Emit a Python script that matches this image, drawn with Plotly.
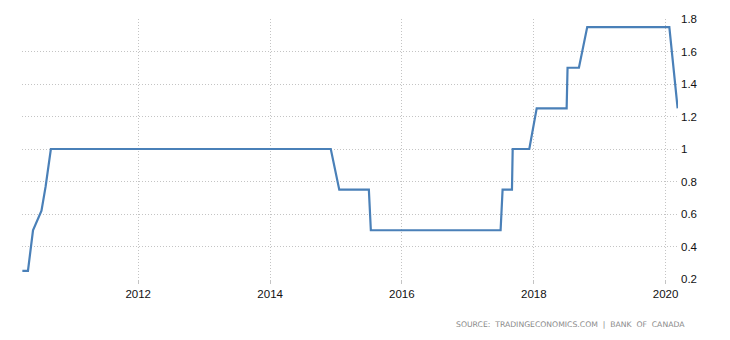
import plotly.graph_objects as go

# Bank of Canada policy rate (%)
dates = ["2010-03-30", "2010-04-30", "2010-05-28", "2010-07-14", "2010-08-06", "2010-09-04",
         "2014-12-03", "2015-01-19", "2015-07-02", "2015-07-13",
         "2017-07-01", "2017-07-12", "2017-09-02", "2017-09-06", "2017-12-07", "2018-01-17",
         "2018-07-02", "2018-07-07", "2018-09-08", "2018-10-24", "2020-01-22", "2020-03-08"]
values = [0.25, 0.25, 0.5, 0.62, 0.77, 1.0,
          1.0, 0.75, 0.75, 0.5,
          0.5, 0.75, 0.75, 1.0, 1.0, 1.25,
          1.25, 1.5, 1.5, 1.75, 1.75, 1.25]
y_ticks = [0.2, 0.4, 0.6, 0.8, 1.0, 1.2, 1.4, 1.6, 1.8]
y_labels = ["0.2", "0.4", "0.6", "0.8", "1", "1.2", "1.4", "1.6", "1.8"]
x_tick_years = ["2012", "2014", "2016", "2018", "2020"]
source_text = "SOURCE:  TRADINGECONOMICS.COM  |  BANK  OF  CANADA"

fig = go.Figure()
fig.add_trace(go.Scatter(
    x=dates, y=values, mode="lines",
    line=dict(color="#4a80b8", width=2.2),
    hoverinfo="skip", showlegend=False,
))

grid_color = "#c4c4c4"
fig.update_layout(
    width=730, height=340,
    margin=dict(l=22, r=52, t=19, b=61),
    paper_bgcolor="white", plot_bgcolor="white",
    font=dict(family="Liberation Sans, Arial, sans-serif", size=11.5, color="#111111"),
    xaxis=dict(
        range=["2010-03-28", "2020-03-10"],
        tickvals=[y + "-01-01" for y in x_tick_years],
        ticktext=x_tick_years,
        showgrid=True, gridcolor=grid_color, griddash="1px,2px", gridwidth=1,
        ticks="outside", ticklen=4, tickcolor=grid_color,
        showline=False, zeroline=False,
    ),
    yaxis=dict(
        range=[0.2, 1.8], side="right",
        tickvals=y_ticks, ticktext=y_labels,
        showgrid=True, gridcolor=grid_color, griddash="1px,2px", gridwidth=1,
        ticks="", showline=False, zeroline=False,
        ticklabelstandoff=2,
    ),
    annotations=[dict(
        text=source_text, xref="paper", yref="paper",
        x=(687 - 22) / (730 - 22 - 52), y=-(324 - 279) / (340 - 19 - 61),
        xanchor="right", yanchor="middle", showarrow=False,
        font=dict(family="DejaVu Sans, sans-serif", size=7.7, color="#8a8a8a"),
    )],
)

fig.write_html("out.html")
